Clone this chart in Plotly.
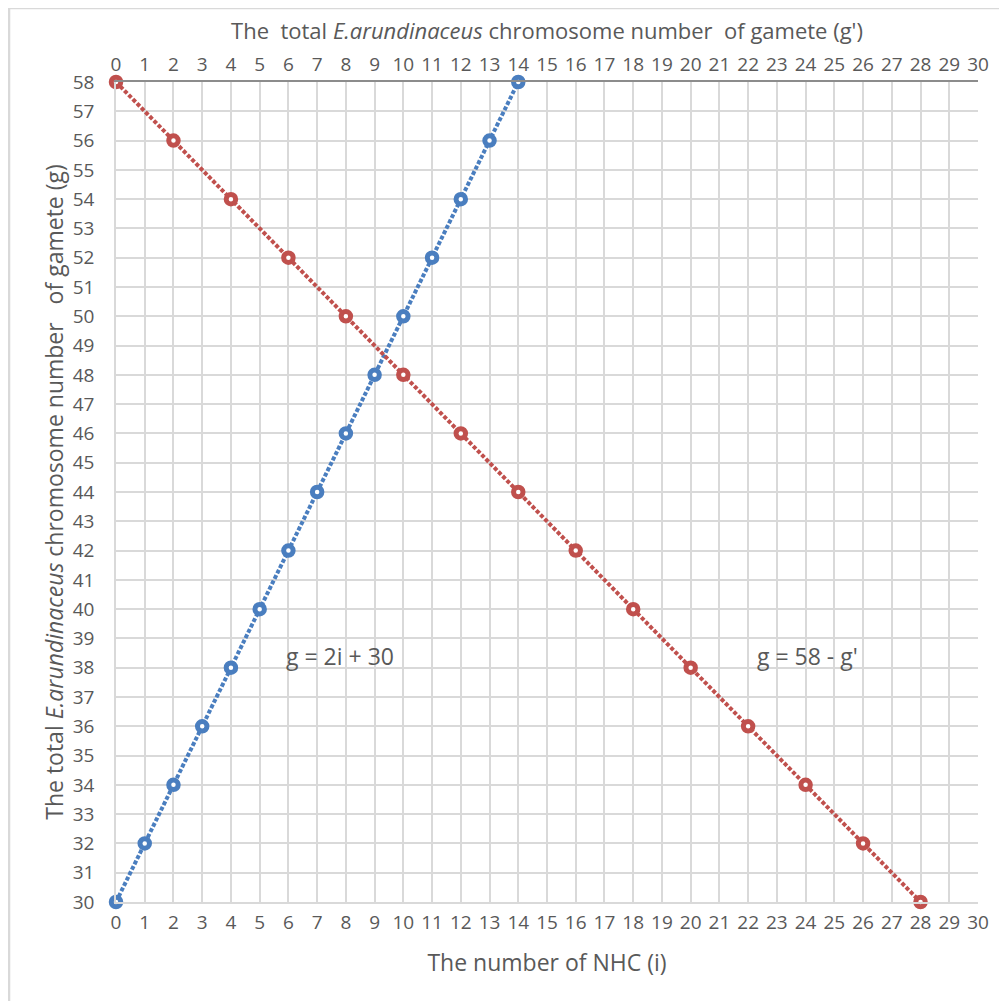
import plotly.graph_objects as go

# Data
nhc_i = list(range(0, 15))                       # number of NHC (i)
g_blue = [30, 32, 34, 36, 38, 40, 42, 44, 46, 48, 50, 52, 54, 56, 58]
g_prime = [0, 2, 4, 6, 8, 10, 12, 14, 16, 18, 20, 22, 24, 26, 28]
g_red = [58, 56, 54, 52, 50, 48, 46, 44, 42, 40, 38, 36, 34, 32, 30]

x_ticks = list(range(0, 31))
y_ticks = list(range(30, 59))

BLUE = "#4a7ebf"
RED = "#c0504d"
TICK = "#595959"
GRID = "#d9d9d9"
FONT = "Open Sans, Liberation Sans, sans-serif"

fig = go.Figure()

fig.add_trace(go.Scatter(
    x=nhc_i, y=g_blue, mode="lines+markers",
    line=dict(color=BLUE, width=4, dash="4px,2px"),
    marker=dict(symbol="circle", size=9.5, color="white",
                line=dict(color=BLUE, width=5)),
    cliponaxis=False, showlegend=False, xaxis="x", yaxis="y"))

fig.add_trace(go.Scatter(
    x=g_prime, y=g_red, mode="lines+markers",
    line=dict(color=RED, width=4, dash="4px,2px"),
    marker=dict(symbol="circle", size=9.5, color="white",
                line=dict(color=RED, width=5)),
    cliponaxis=False, showlegend=False, xaxis="x2", yaxis="y"))

axis_common = dict(range=[0, 30], tickmode="array", tickvals=x_ticks,
                   ticktext=[str(v) for v in x_ticks],
                   tickfont=dict(family=FONT, size=19, color=TICK),
                   zeroline=False, ticks="", ticklabelstandoff=2)

fig.update_layout(
    width=1007, height=1001,
    paper_bgcolor="white", plot_bgcolor="white",
    margin=dict(l=108, r=37, t=74, b=107),
    font=dict(family=FONT, color=TICK),
    xaxis=dict(**axis_common, showgrid=True, gridcolor=GRID, gridwidth=1.5,
               showline=True, linecolor=GRID, linewidth=1.5,
               title=dict(text="The number of NHC (i)",
                          font=dict(family=FONT, size=23, color=TICK),
                          standoff=21)),
    xaxis2=dict(**axis_common, overlaying="x", side="top", showgrid=False,
                showline=True, linecolor="#8c8c8c", linewidth=1.5,
                title=dict(text="The  total <i>E.arundinaceus</i> chromosome number  of gamete (g')",
                           font=dict(family=FONT, size=22, color=TICK),
                           standoff=5)),
    yaxis=dict(range=[30, 58], tickmode="array", tickvals=y_ticks,
               ticktext=[str(v) for v in y_ticks],
               tickfont=dict(family=FONT, size=19, color=TICK),
               showgrid=True, gridcolor=GRID, gridwidth=1.5,
               showline=True, linecolor=GRID, linewidth=1.5,
               zeroline=False, ticks="", ticklabelstandoff=16,
               title=dict(text="The total <i>E.arundinaceus</i> chromosome number   of gamete (g)",
                          font=dict(family=FONT, size=23, color=TICK),
                          standoff=3)),
    annotations=[
        dict(x=7.8, y=38.4, xref="x", yref="y", text="g = 2i + 30",
             showarrow=False, font=dict(family=FONT, size=23, color=TICK)),
        dict(x=24.05, y=38.4, xref="x", yref="y", text="g = 58 - g'",
             showarrow=False, font=dict(family=FONT, size=23, color=TICK)),
    ],
    shapes=[
        dict(type="rect", xref="paper", yref="paper",
             x0=-0.1241, y0=-0.2, x1=1.1, y1=1.0902,
             line=dict(color="#d9d9d9", width=2.5), fillcolor="rgba(0,0,0,0)",
             layer="below"),
    ],
)

fig.write_html("out.html")
